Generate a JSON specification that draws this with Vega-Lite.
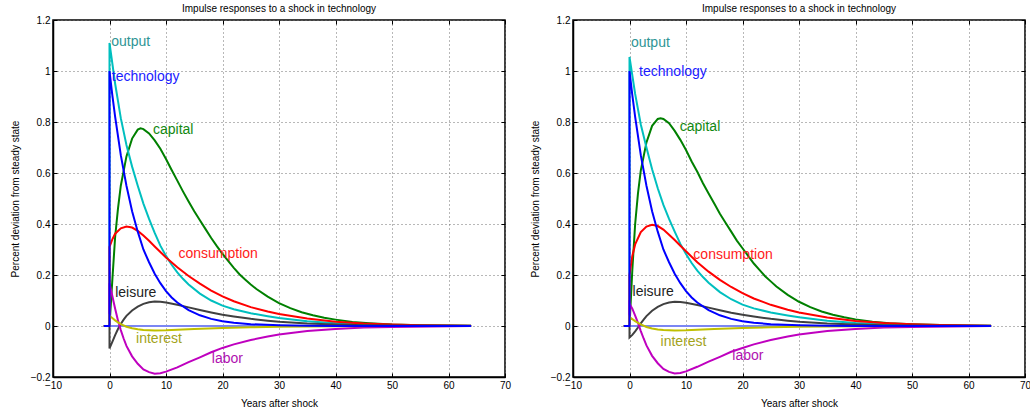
{
  "$schema": "https://vega.github.io/schema/vega-lite/v6.json",
  "padding": {"left": 9, "top": 3, "right": 0, "bottom": 0},
  "spacing": 68,
  "bounds": "flush",
  "config": {
    "font": "Liberation Sans",
    "view": {"stroke": "#000000", "strokeWidth": 1.5},
    "title": {"fontSize": 10, "fontWeight": "normal", "color": "#000000", "offset": 1},
    "axis": {"labelFontSize": 10, "labelColor": "#000000", "titleFontSize": 10, "titleFontWeight": "normal", "titleColor": "#000000", "labelFlush": false, "labelOverlap": false, "labelBound": false, "tickColor": "#000000", "domainColor": "#000000", "domainWidth": 1.5, "gridColor": "#707070", "gridDash": [1, 3], "gridWidth": 1, "gridOpacity": 1}
  },
  "datasets": {
    "L": [
      {"s":"zero","t":-1,"v":0},{"s":"zero","t":64,"v":0},
      {"s":"capital","t":-1,"v":0},{"s":"capital","t":0,"v":0},{"s":"capital","t":0.5,"v":0.18},{"s":"capital","t":1,"v":0.35},{"s":"capital","t":1.5,"v":0.46},{"s":"capital","t":2,"v":0.55},{"s":"capital","t":3,"v":0.665},{"s":"capital","t":4,"v":0.735},{"s":"capital","t":5,"v":0.77},{"s":"capital","t":5.5,"v":0.775},{"s":"capital","t":6,"v":0.772},{"s":"capital","t":7,"v":0.755},{"s":"capital","t":8,"v":0.728},{"s":"capital","t":9,"v":0.695},{"s":"capital","t":10,"v":0.655},{"s":"capital","t":11,"v":0.612},{"s":"capital","t":12,"v":0.57},{"s":"capital","t":13,"v":0.528},{"s":"capital","t":14,"v":0.488},{"s":"capital","t":15,"v":0.45},{"s":"capital","t":16,"v":0.415},{"s":"capital","t":17,"v":0.38},{"s":"capital","t":18,"v":0.345},{"s":"capital","t":19,"v":0.313},{"s":"capital","t":20,"v":0.283},{"s":"capital","t":21,"v":0.255},{"s":"capital","t":22,"v":0.228},{"s":"capital","t":23,"v":0.203},{"s":"capital","t":24,"v":0.182},{"s":"capital","t":25,"v":0.163},{"s":"capital","t":26,"v":0.145},{"s":"capital","t":28,"v":0.115},{"s":"capital","t":30,"v":0.09},{"s":"capital","t":32,"v":0.07},{"s":"capital","t":34,"v":0.054},{"s":"capital","t":36,"v":0.042},{"s":"capital","t":38,"v":0.032},{"s":"capital","t":40,"v":0.025},{"s":"capital","t":43,"v":0.016},{"s":"capital","t":46,"v":0.011},{"s":"capital","t":50,"v":0.006},{"s":"capital","t":55,"v":0.003},{"s":"capital","t":60,"v":0.002},{"s":"capital","t":64,"v":0.001},
      {"s":"output","t":-1,"v":0},{"s":"output","t":0,"v":0},{"s":"output","t":0,"v":1.11},{"s":"output","t":1,"v":0.95},{"s":"output","t":2,"v":0.815},{"s":"output","t":3,"v":0.71},{"s":"output","t":4,"v":0.625},{"s":"output","t":5,"v":0.55},{"s":"output","t":6,"v":0.48},{"s":"output","t":7,"v":0.42},{"s":"output","t":8,"v":0.365},{"s":"output","t":9,"v":0.315},{"s":"output","t":10,"v":0.275},{"s":"output","t":11,"v":0.24},{"s":"output","t":12,"v":0.21},{"s":"output","t":13,"v":0.185},{"s":"output","t":14,"v":0.163},{"s":"output","t":16,"v":0.127},{"s":"output","t":18,"v":0.1},{"s":"output","t":20,"v":0.08},{"s":"output","t":22,"v":0.066},{"s":"output","t":25,"v":0.05},{"s":"output","t":28,"v":0.038},{"s":"output","t":30,"v":0.031},{"s":"output","t":35,"v":0.019},{"s":"output","t":40,"v":0.011},{"s":"output","t":45,"v":0.006},{"s":"output","t":50,"v":0.004},{"s":"output","t":55,"v":0.002},{"s":"output","t":64,"v":0.001},
      {"s":"consumption","t":-1,"v":0},{"s":"consumption","t":0,"v":0},{"s":"consumption","t":0,"v":0.31},{"s":"consumption","t":0.5,"v":0.34},{"s":"consumption","t":1,"v":0.362},{"s":"consumption","t":2,"v":0.383},{"s":"consumption","t":3,"v":0.39},{"s":"consumption","t":4,"v":0.386},{"s":"consumption","t":5,"v":0.373},{"s":"consumption","t":6,"v":0.355},{"s":"consumption","t":7,"v":0.334},{"s":"consumption","t":8,"v":0.312},{"s":"consumption","t":9,"v":0.29},{"s":"consumption","t":10,"v":0.269},{"s":"consumption","t":12,"v":0.23},{"s":"consumption","t":14,"v":0.196},{"s":"consumption","t":16,"v":0.166},{"s":"consumption","t":18,"v":0.139},{"s":"consumption","t":20,"v":0.116},{"s":"consumption","t":22,"v":0.097},{"s":"consumption","t":25,"v":0.074},{"s":"consumption","t":28,"v":0.057},{"s":"consumption","t":30,"v":0.047},{"s":"consumption","t":35,"v":0.029},{"s":"consumption","t":40,"v":0.017},{"s":"consumption","t":45,"v":0.01},{"s":"consumption","t":50,"v":0.006},{"s":"consumption","t":55,"v":0.003},{"s":"consumption","t":64,"v":0.001},
      {"s":"leisure","t":-1,"v":0},{"s":"leisure","t":0,"v":0},{"s":"leisure","t":0,"v":-0.088},{"s":"leisure","t":0.5,"v":-0.062},{"s":"leisure","t":1,"v":-0.036},{"s":"leisure","t":1.5,"v":-0.012},{"s":"leisure","t":2,"v":0.008},{"s":"leisure","t":2.5,"v":0.025},{"s":"leisure","t":3,"v":0.04},{"s":"leisure","t":4,"v":0.061},{"s":"leisure","t":5,"v":0.076},{"s":"leisure","t":6,"v":0.087},{"s":"leisure","t":7,"v":0.093},{"s":"leisure","t":8,"v":0.096},{"s":"leisure","t":9,"v":0.095},{"s":"leisure","t":10,"v":0.092},{"s":"leisure","t":12,"v":0.083},{"s":"leisure","t":14,"v":0.073},{"s":"leisure","t":16,"v":0.063},{"s":"leisure","t":18,"v":0.053},{"s":"leisure","t":20,"v":0.044},{"s":"leisure","t":22,"v":0.037},{"s":"leisure","t":25,"v":0.028},{"s":"leisure","t":28,"v":0.021},{"s":"leisure","t":30,"v":0.017},{"s":"leisure","t":35,"v":0.01},{"s":"leisure","t":40,"v":0.006},{"s":"leisure","t":45,"v":0.003},{"s":"leisure","t":50,"v":0.002},{"s":"leisure","t":64,"v":0},
      {"s":"labor","t":-1,"v":0},{"s":"labor","t":0,"v":0},{"s":"labor","t":0,"v":0.168},{"s":"labor","t":0.5,"v":0.118},{"s":"labor","t":1,"v":0.068},{"s":"labor","t":1.5,"v":0.022},{"s":"labor","t":2,"v":-0.016},{"s":"labor","t":2.5,"v":-0.049},{"s":"labor","t":3,"v":-0.078},{"s":"labor","t":4,"v":-0.119},{"s":"labor","t":5,"v":-0.148},{"s":"labor","t":6,"v":-0.17},{"s":"labor","t":7,"v":-0.181},{"s":"labor","t":8,"v":-0.187},{"s":"labor","t":9,"v":-0.185},{"s":"labor","t":10,"v":-0.179},{"s":"labor","t":12,"v":-0.162},{"s":"labor","t":14,"v":-0.142},{"s":"labor","t":16,"v":-0.123},{"s":"labor","t":18,"v":-0.103},{"s":"labor","t":20,"v":-0.086},{"s":"labor","t":22,"v":-0.072},{"s":"labor","t":25,"v":-0.055},{"s":"labor","t":28,"v":-0.041},{"s":"labor","t":30,"v":-0.033},{"s":"labor","t":35,"v":-0.02},{"s":"labor","t":40,"v":-0.012},{"s":"labor","t":45,"v":-0.006},{"s":"labor","t":50,"v":-0.004},{"s":"labor","t":64,"v":0},
      {"s":"interest","t":-1,"v":0},{"s":"interest","t":0,"v":0},{"s":"interest","t":0,"v":0.04},{"s":"interest","t":0.5,"v":0.031},{"s":"interest","t":1,"v":0.022},{"s":"interest","t":1.5,"v":0.014},{"s":"interest","t":2,"v":0.007},{"s":"interest","t":3,"v":-0.003},{"s":"interest","t":4,"v":-0.009},{"s":"interest","t":5,"v":-0.013},{"s":"interest","t":6,"v":-0.016},{"s":"interest","t":7,"v":-0.017},{"s":"interest","t":8,"v":-0.018},{"s":"interest","t":10,"v":-0.017},{"s":"interest","t":12,"v":-0.015},{"s":"interest","t":15,"v":-0.012},{"s":"interest","t":20,"v":-0.008},{"s":"interest","t":25,"v":-0.005},{"s":"interest","t":30,"v":-0.003},{"s":"interest","t":40,"v":-0.001},{"s":"interest","t":50,"v":0},{"s":"interest","t":64,"v":0},
      {"s":"technology","t":-1,"v":0},{"s":"technology","t":0,"v":0},{"s":"technology","t":0,"v":1},{"s":"technology","t":0.5,"v":0.905},{"s":"technology","t":1,"v":0.82},{"s":"technology","t":2,"v":0.67},{"s":"technology","t":3,"v":0.55},{"s":"technology","t":4,"v":0.45},{"s":"technology","t":5,"v":0.37},{"s":"technology","t":6,"v":0.3},{"s":"technology","t":7,"v":0.25},{"s":"technology","t":8,"v":0.205},{"s":"technology","t":9,"v":0.168},{"s":"technology","t":10,"v":0.137},{"s":"technology","t":11,"v":0.112},{"s":"technology","t":12,"v":0.092},{"s":"technology","t":14,"v":0.062},{"s":"technology","t":16,"v":0.042},{"s":"technology","t":18,"v":0.028},{"s":"technology","t":20,"v":0.019},{"s":"technology","t":22,"v":0.013},{"s":"technology","t":25,"v":0.007},{"s":"technology","t":30,"v":0.003},{"s":"technology","t":35,"v":0.001},{"s":"technology","t":40,"v":0},{"s":"technology","t":64,"v":0}
    ],
    "R": [
      {"s":"zero","t":-1,"v":0},{"s":"zero","t":64,"v":0},
      {"s":"capital","t":-1,"v":0},{"s":"capital","t":0,"v":0},{"s":"capital","t":0.5,"v":0.22},{"s":"capital","t":1,"v":0.4},{"s":"capital","t":1.5,"v":0.52},{"s":"capital","t":2,"v":0.61},{"s":"capital","t":3,"v":0.72},{"s":"capital","t":4,"v":0.785},{"s":"capital","t":5,"v":0.812},{"s":"capital","t":5.5,"v":0.815},{"s":"capital","t":6,"v":0.812},{"s":"capital","t":7,"v":0.795},{"s":"capital","t":8,"v":0.765},{"s":"capital","t":9,"v":0.73},{"s":"capital","t":10,"v":0.69},{"s":"capital","t":11,"v":0.645},{"s":"capital","t":12,"v":0.605},{"s":"capital","t":13,"v":0.56},{"s":"capital","t":14,"v":0.52},{"s":"capital","t":15,"v":0.48},{"s":"capital","t":16,"v":0.44},{"s":"capital","t":17,"v":0.405},{"s":"capital","t":18,"v":0.37},{"s":"capital","t":19,"v":0.335},{"s":"capital","t":20,"v":0.305},{"s":"capital","t":21,"v":0.275},{"s":"capital","t":22,"v":0.245},{"s":"capital","t":23,"v":0.22},{"s":"capital","t":24,"v":0.195},{"s":"capital","t":25,"v":0.175},{"s":"capital","t":26,"v":0.155},{"s":"capital","t":28,"v":0.122},{"s":"capital","t":30,"v":0.095},{"s":"capital","t":32,"v":0.074},{"s":"capital","t":34,"v":0.057},{"s":"capital","t":36,"v":0.044},{"s":"capital","t":38,"v":0.034},{"s":"capital","t":40,"v":0.026},{"s":"capital","t":43,"v":0.017},{"s":"capital","t":46,"v":0.011},{"s":"capital","t":50,"v":0.007},{"s":"capital","t":55,"v":0.004},{"s":"capital","t":60,"v":0.002},{"s":"capital","t":64,"v":0.001},
      {"s":"output","t":-1,"v":0},{"s":"output","t":0,"v":0},{"s":"output","t":0,"v":1.055},{"s":"output","t":1,"v":0.91},{"s":"output","t":2,"v":0.79},{"s":"output","t":3,"v":0.7},{"s":"output","t":4,"v":0.615},{"s":"output","t":5,"v":0.54},{"s":"output","t":6,"v":0.475},{"s":"output","t":7,"v":0.42},{"s":"output","t":8,"v":0.37},{"s":"output","t":9,"v":0.322},{"s":"output","t":10,"v":0.282},{"s":"output","t":11,"v":0.247},{"s":"output","t":12,"v":0.217},{"s":"output","t":13,"v":0.192},{"s":"output","t":14,"v":0.17},{"s":"output","t":16,"v":0.133},{"s":"output","t":18,"v":0.105},{"s":"output","t":20,"v":0.084},{"s":"output","t":22,"v":0.069},{"s":"output","t":25,"v":0.053},{"s":"output","t":28,"v":0.041},{"s":"output","t":30,"v":0.034},{"s":"output","t":35,"v":0.021},{"s":"output","t":40,"v":0.012},{"s":"output","t":45,"v":0.007},{"s":"output","t":50,"v":0.004},{"s":"output","t":55,"v":0.002},{"s":"output","t":64,"v":0.001},
      {"s":"consumption","t":-1,"v":0},{"s":"consumption","t":0,"v":0},{"s":"consumption","t":0,"v":0.2},{"s":"consumption","t":0.5,"v":0.275},{"s":"consumption","t":1,"v":0.32},{"s":"consumption","t":2,"v":0.368},{"s":"consumption","t":3,"v":0.39},{"s":"consumption","t":4,"v":0.397},{"s":"consumption","t":5,"v":0.392},{"s":"consumption","t":6,"v":0.378},{"s":"consumption","t":7,"v":0.358},{"s":"consumption","t":8,"v":0.337},{"s":"consumption","t":9,"v":0.315},{"s":"consumption","t":10,"v":0.293},{"s":"consumption","t":12,"v":0.25},{"s":"consumption","t":14,"v":0.213},{"s":"consumption","t":16,"v":0.181},{"s":"consumption","t":18,"v":0.153},{"s":"consumption","t":20,"v":0.129},{"s":"consumption","t":22,"v":0.108},{"s":"consumption","t":25,"v":0.083},{"s":"consumption","t":28,"v":0.064},{"s":"consumption","t":30,"v":0.053},{"s":"consumption","t":35,"v":0.033},{"s":"consumption","t":40,"v":0.02},{"s":"consumption","t":45,"v":0.012},{"s":"consumption","t":50,"v":0.007},{"s":"consumption","t":55,"v":0.004},{"s":"consumption","t":64,"v":0.001},
      {"s":"leisure","t":-1,"v":0},{"s":"leisure","t":0,"v":0},{"s":"leisure","t":0,"v":-0.045},{"s":"leisure","t":0.5,"v":-0.035},{"s":"leisure","t":1,"v":-0.021},{"s":"leisure","t":1.5,"v":-0.006},{"s":"leisure","t":2,"v":0.01},{"s":"leisure","t":2.5,"v":0.025},{"s":"leisure","t":3,"v":0.039},{"s":"leisure","t":4,"v":0.06},{"s":"leisure","t":5,"v":0.075},{"s":"leisure","t":6,"v":0.086},{"s":"leisure","t":7,"v":0.092},{"s":"leisure","t":8,"v":0.095},{"s":"leisure","t":9,"v":0.094},{"s":"leisure","t":10,"v":0.091},{"s":"leisure","t":12,"v":0.082},{"s":"leisure","t":14,"v":0.072},{"s":"leisure","t":16,"v":0.062},{"s":"leisure","t":18,"v":0.052},{"s":"leisure","t":20,"v":0.044},{"s":"leisure","t":22,"v":0.037},{"s":"leisure","t":25,"v":0.028},{"s":"leisure","t":28,"v":0.021},{"s":"leisure","t":30,"v":0.017},{"s":"leisure","t":35,"v":0.01},{"s":"leisure","t":40,"v":0.006},{"s":"leisure","t":45,"v":0.003},{"s":"leisure","t":50,"v":0.002},{"s":"leisure","t":64,"v":0},
      {"s":"labor","t":-1,"v":0},{"s":"labor","t":0,"v":0},{"s":"labor","t":0,"v":0.088},{"s":"labor","t":0.5,"v":0.068},{"s":"labor","t":1,"v":0.041},{"s":"labor","t":1.5,"v":0.012},{"s":"labor","t":2,"v":-0.02},{"s":"labor","t":2.5,"v":-0.049},{"s":"labor","t":3,"v":-0.076},{"s":"labor","t":4,"v":-0.117},{"s":"labor","t":5,"v":-0.146},{"s":"labor","t":6,"v":-0.168},{"s":"labor","t":7,"v":-0.18},{"s":"labor","t":8,"v":-0.186},{"s":"labor","t":9,"v":-0.184},{"s":"labor","t":10,"v":-0.178},{"s":"labor","t":12,"v":-0.16},{"s":"labor","t":14,"v":-0.14},{"s":"labor","t":16,"v":-0.121},{"s":"labor","t":18,"v":-0.101},{"s":"labor","t":20,"v":-0.086},{"s":"labor","t":22,"v":-0.072},{"s":"labor","t":25,"v":-0.055},{"s":"labor","t":28,"v":-0.041},{"s":"labor","t":30,"v":-0.033},{"s":"labor","t":35,"v":-0.02},{"s":"labor","t":40,"v":-0.012},{"s":"labor","t":45,"v":-0.006},{"s":"labor","t":50,"v":-0.004},{"s":"labor","t":64,"v":0},
      {"s":"interest","t":-1,"v":0},{"s":"interest","t":0,"v":0},{"s":"interest","t":0,"v":0.035},{"s":"interest","t":0.5,"v":0.027},{"s":"interest","t":1,"v":0.019},{"s":"interest","t":1.5,"v":0.012},{"s":"interest","t":2,"v":0.006},{"s":"interest","t":3,"v":-0.004},{"s":"interest","t":4,"v":-0.01},{"s":"interest","t":5,"v":-0.014},{"s":"interest","t":6,"v":-0.016},{"s":"interest","t":7,"v":-0.017},{"s":"interest","t":8,"v":-0.018},{"s":"interest","t":10,"v":-0.017},{"s":"interest","t":12,"v":-0.015},{"s":"interest","t":15,"v":-0.012},{"s":"interest","t":20,"v":-0.008},{"s":"interest","t":25,"v":-0.005},{"s":"interest","t":30,"v":-0.003},{"s":"interest","t":40,"v":-0.001},{"s":"interest","t":50,"v":0},{"s":"interest","t":64,"v":0},
      {"s":"technology","t":-1,"v":0},{"s":"technology","t":0,"v":0},{"s":"technology","t":0,"v":1},{"s":"technology","t":0.5,"v":0.905},{"s":"technology","t":1,"v":0.82},{"s":"technology","t":2,"v":0.67},{"s":"technology","t":3,"v":0.55},{"s":"technology","t":4,"v":0.45},{"s":"technology","t":5,"v":0.37},{"s":"technology","t":6,"v":0.3},{"s":"technology","t":7,"v":0.25},{"s":"technology","t":8,"v":0.205},{"s":"technology","t":9,"v":0.168},{"s":"technology","t":10,"v":0.137},{"s":"technology","t":11,"v":0.112},{"s":"technology","t":12,"v":0.092},{"s":"technology","t":14,"v":0.062},{"s":"technology","t":16,"v":0.042},{"s":"technology","t":18,"v":0.028},{"s":"technology","t":20,"v":0.019},{"s":"technology","t":22,"v":0.013},{"s":"technology","t":25,"v":0.007},{"s":"technology","t":30,"v":0.003},{"s":"technology","t":35,"v":0.001},{"s":"technology","t":40,"v":0},{"s":"technology","t":64,"v":0}
    ],
    "LL": [
      {"s":"output","t":0.3,"v":1.113,"label":"output"},
      {"s":"technology","t":0.4,"v":0.976,"label":"technology"},
      {"s":"capital","t":7.7,"v":0.768,"label":"capital"},
      {"s":"consumption","t":12.2,"v":0.281,"label":"consumption"},
      {"s":"leisure","t":1.0,"v":0.128,"label":"leisure"},
      {"s":"interest","t":4.7,"v":-0.052,"label":"interest"},
      {"s":"labor","t":18.1,"v":-0.131,"label":"labor"}
    ],
    "RL": [
      {"s":"output","t":0.25,"v":1.11,"label":"output"},
      {"s":"technology","t":1.7,"v":0.996,"label":"technology"},
      {"s":"capital","t":8.9,"v":0.78,"label":"capital"},
      {"s":"consumption","t":11.3,"v":0.278,"label":"consumption"},
      {"s":"leisure","t":0.55,"v":0.132,"label":"leisure"},
      {"s":"interest","t":5.5,"v":-0.063,"label":"interest"},
      {"s":"labor","t":18.2,"v":-0.119,"label":"labor"}
    ]
  },
  "hconcat": [
    {
      "width": 452, "height": 357,
      "title": "Impulse responses to a shock in technology",
      "layer": [
        {
          "data": {"name": "L"},
          "transform": [{"window": [{"op": "row_number", "as": "rn"}], "groupby": ["s"]}],
          "mark": {"type": "line", "strokeWidth": 2},
          "encoding": {
            "x": {"field": "t", "type": "quantitative", "scale": {"domain": [-10, 70], "nice": false, "zero": false}, "axis": {"orient": "bottom", "values": [-10, 0, 10, 20, 30, 40, 50, 60, 70], "format": "d", "grid": true, "tickSize": -4, "labelPadding": 7, "title": "Years after shock", "titlePadding": 8}},
            "y": {"field": "v", "type": "quantitative", "scale": {"domain": [-0.2, 1.2], "nice": false, "zero": false}, "axis": {"orient": "left", "values": [-0.2, 0, 0.2, 0.4, 0.6, 0.8, 1, 1.2], "format": "~g", "grid": true, "tickSize": -4, "labelPadding": 7, "title": "Percent deviation from steady state", "titlePadding": 10}},
            "color": {"field": "s", "type": "nominal", "legend": null, "scale": {"domain": ["zero", "capital", "output", "consumption", "leisure", "labor", "interest", "technology"], "range": ["#7b86f3", "#008000", "#00bfbf", "#ff0000", "#404040", "#bf00bf", "#bfbf00", "#0000ff"]}},
            "order": {"field": "rn", "type": "quantitative"}
          }
        },
        {
          "data": {"name": "LL"},
          "mark": {"type": "text", "align": "left", "baseline": "middle", "fontSize": 14},
          "encoding": {
            "x": {"field": "t", "type": "quantitative", "axis": {"orient": "top", "values": [-10, 0, 10, 20, 30, 40, 50, 60, 70], "labels": false, "domain": false, "grid": false, "tickSize": -4, "title": null}},
            "y": {"field": "v", "type": "quantitative", "axis": {"orient": "right", "values": [-0.2, 0, 0.2, 0.4, 0.6, 0.8, 1, 1.2], "labels": false, "domain": false, "grid": false, "tickSize": -4, "title": null}},
            "text": {"field": "label"},
            "color": {"field": "s", "type": "nominal", "legend": null, "scale": {"domain": ["output", "technology", "capital", "consumption", "leisure", "interest", "labor"], "range": ["#2f9595", "#1a1aff", "#118811", "#ff1a1a", "#222222", "#a3a31a", "#b011b0"]}}
          }
        }
      ],
      "resolve": {"axis": {"x": "independent", "y": "independent"}, "scale": {"color": "independent"}}
    },
    {
      "width": 452, "height": 357,
      "title": "Impulse responses to a shock in technology",
      "layer": [
        {
          "data": {"name": "R"},
          "transform": [{"window": [{"op": "row_number", "as": "rn"}], "groupby": ["s"]}],
          "mark": {"type": "line", "strokeWidth": 2},
          "encoding": {
            "x": {"field": "t", "type": "quantitative", "scale": {"domain": [-10, 70], "nice": false, "zero": false}, "axis": {"orient": "bottom", "values": [-10, 0, 10, 20, 30, 40, 50, 60, 70], "format": "d", "grid": true, "tickSize": -4, "labelPadding": 7, "title": "Years after shock", "titlePadding": 8}},
            "y": {"field": "v", "type": "quantitative", "scale": {"domain": [-0.2, 1.2], "nice": false, "zero": false}, "axis": {"orient": "left", "values": [-0.2, 0, 0.2, 0.4, 0.6, 0.8, 1, 1.2], "format": "~g", "grid": true, "tickSize": -4, "labelPadding": 7, "title": "Percent deviation from steady state", "titlePadding": 10}},
            "color": {"field": "s", "type": "nominal", "legend": null, "scale": {"domain": ["zero", "capital", "output", "consumption", "leisure", "labor", "interest", "technology"], "range": ["#7b86f3", "#008000", "#00bfbf", "#ff0000", "#404040", "#bf00bf", "#bfbf00", "#0000ff"]}},
            "order": {"field": "rn", "type": "quantitative"}
          }
        },
        {
          "data": {"name": "RL"},
          "mark": {"type": "text", "align": "left", "baseline": "middle", "fontSize": 14},
          "encoding": {
            "x": {"field": "t", "type": "quantitative", "axis": {"orient": "top", "values": [-10, 0, 10, 20, 30, 40, 50, 60, 70], "labels": false, "domain": false, "grid": false, "tickSize": -4, "title": null}},
            "y": {"field": "v", "type": "quantitative", "axis": {"orient": "right", "values": [-0.2, 0, 0.2, 0.4, 0.6, 0.8, 1, 1.2], "labels": false, "domain": false, "grid": false, "tickSize": -4, "title": null}},
            "text": {"field": "label"},
            "color": {"field": "s", "type": "nominal", "legend": null, "scale": {"domain": ["output", "technology", "capital", "consumption", "leisure", "interest", "labor"], "range": ["#2f9595", "#1a1aff", "#118811", "#ff1a1a", "#222222", "#a3a31a", "#b011b0"]}}
          }
        }
      ],
      "resolve": {"axis": {"x": "independent", "y": "independent"}, "scale": {"color": "independent"}}
    }
  ]
}
